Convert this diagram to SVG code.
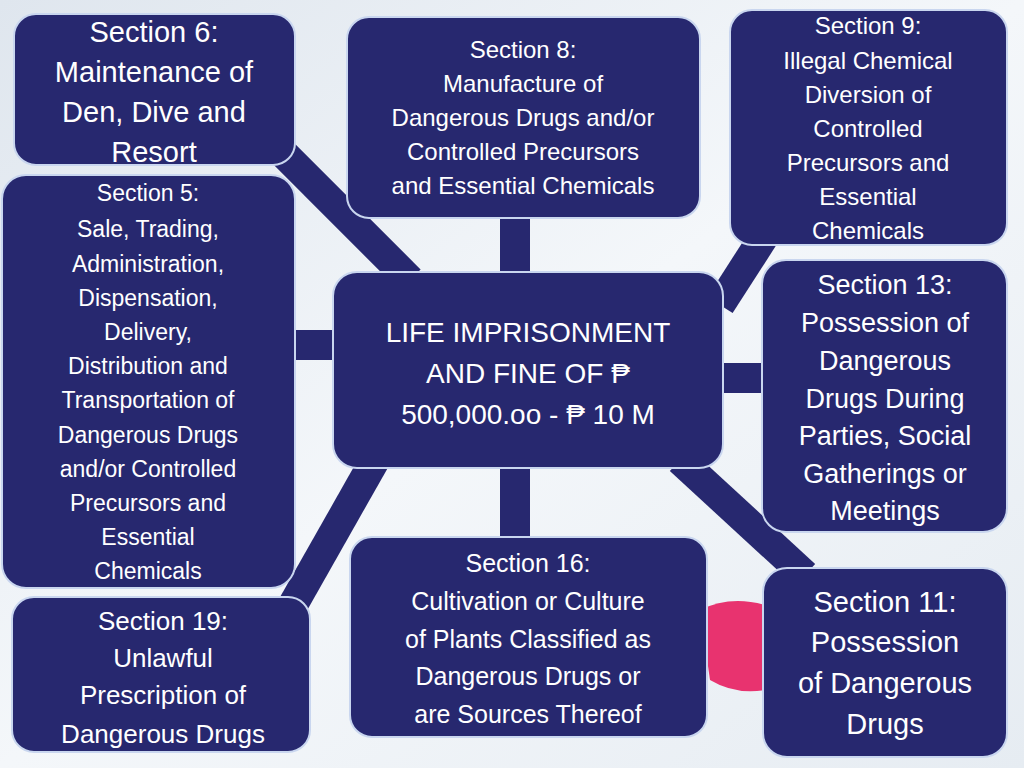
<svg xmlns="http://www.w3.org/2000/svg" width="1024" height="768" viewBox="0 0 1024 768">
<defs>
<linearGradient id="bg" x1="0" y1="0" x2="1" y2="1"><stop offset="0" stop-color="#dfe6ee"/><stop offset="0.5" stop-color="#f4f7fa"/><stop offset="1" stop-color="#e6ecf2"/></linearGradient>
<style>
.b{fill:#27286f;stroke:#c9d6ef;stroke-width:2}
.c{stroke:#27286f;stroke-width:30;fill:none}
text{font-family:"Liberation Sans",Arial,sans-serif;fill:#fff;text-anchor:middle}
</style>
</defs>
<rect width="1024" height="768" fill="url(#bg)"/>
<path d="M700 610 Q730 595 765 605 L765 690 Q735 695 710 680 Z" fill="#e8336f"/>
<g id="connectors">
<line class="c" x1="270" y1="140" x2="410" y2="280"/>
<line class="c" x1="515" y1="215" x2="515" y2="275"/>
<line class="c" x1="765" y1="235" x2="720" y2="305"/>
<line class="c" x1="290" y1="345" x2="340" y2="345"/>
<line class="c" x1="718" y1="378" x2="766" y2="378"/>
<line class="c" x1="290" y1="610" x2="375" y2="460"/>
<line class="c" x1="515" y1="465" x2="515" y2="540"/>
<line class="c" x1="680" y1="460" x2="805" y2="575"/>
</g>
<g id="s6"><rect class="b" x="14" y="14" width="281" height="151" rx="22"/>
<text font-size="29"><tspan x="154" y="42">Section 6:</tspan><tspan x="154" y="82">Maintenance of</tspan><tspan x="154" y="122">Den, Dive and</tspan><tspan x="154" y="162">Resort</tspan></text></g>
<g id="s8"><rect class="b" x="347" y="17" width="353" height="201" rx="22"/>
<text font-size="24"><tspan x="523" y="58">Section 8:</tspan><tspan x="523" y="92">Manufacture of</tspan><tspan x="523" y="126">Dangerous Drugs and/or</tspan><tspan x="523" y="160">Controlled Precursors</tspan><tspan x="523" y="194">and Essential Chemicals</tspan></text></g>
<g id="s9"><rect class="b" x="730" y="10" width="277" height="235" rx="22"/>
<text font-size="24"><tspan x="868" y="34">Section 9:</tspan><tspan x="868" y="69">Illegal Chemical</tspan><tspan x="868" y="103">Diversion of</tspan><tspan x="868" y="137">Controlled</tspan><tspan x="868" y="171">Precursors and</tspan><tspan x="868" y="205">Essential</tspan><tspan x="868" y="239">Chemicals</tspan></text></g>
<g id="s5"><rect class="b" x="2" y="175" width="293" height="413" rx="24"/>
<text font-size="23"><tspan x="148" y="201">Section 5:</tspan><tspan x="148" y="237">Sale, Trading,</tspan><tspan x="148" y="272">Administration,</tspan><tspan x="148" y="306">Dispensation,</tspan><tspan x="148" y="340">Delivery,</tspan><tspan x="148" y="374">Distribution and</tspan><tspan x="148" y="408">Transportation of</tspan><tspan x="148" y="443">Dangerous Drugs</tspan><tspan x="148" y="477">and/or Controlled</tspan><tspan x="148" y="511">Precursors and</tspan><tspan x="148" y="545">Essential</tspan><tspan x="148" y="579">Chemicals</tspan></text></g>
<g id="center"><rect class="b" x="333" y="272" width="390" height="196" rx="24"/>
<text font-size="28"><tspan x="528" y="342">LIFE IMPRISONMENT</tspan><tspan x="528" y="383">AND FINE OF ₱</tspan><tspan x="528" y="424">500,000.oo - ₱ 10 M</tspan></text></g>
<g id="s13"><rect class="b" x="762" y="260" width="245" height="272" rx="24"/>
<text font-size="27"><tspan x="885" y="294">Section 13:</tspan><tspan x="885" y="332">Possession of</tspan><tspan x="885" y="370">Dangerous</tspan><tspan x="885" y="408">Drugs During</tspan><tspan x="885" y="445">Parties, Social</tspan><tspan x="885" y="483">Gatherings or</tspan><tspan x="885" y="520">Meetings</tspan></text></g>
<g id="s19"><rect class="b" x="12" y="597" width="298" height="155" rx="22"/>
<text font-size="26"><tspan x="163" y="630">Section 19:</tspan><tspan x="163" y="667">Unlawful</tspan><tspan x="163" y="704">Prescription of</tspan><tspan x="163" y="743">Dangerous Drugs</tspan></text></g>
<g id="s16"><rect class="b" x="350" y="537" width="357" height="200" rx="22"/>
<text font-size="25"><tspan x="528" y="572">Section 16:</tspan><tspan x="528" y="610">Cultivation or Culture</tspan><tspan x="528" y="648">of Plants Classified as</tspan><tspan x="528" y="685">Dangerous Drugs or</tspan><tspan x="528" y="723">are Sources Thereof</tspan></text></g>
<g id="s11"><rect class="b" x="763" y="568" width="244" height="189" rx="24"/>
<text font-size="29"><tspan x="885" y="612">Section 11:</tspan><tspan x="885" y="652">Possession</tspan><tspan x="885" y="693">of Dangerous</tspan><tspan x="885" y="734">Drugs</tspan></text></g>
</svg>
